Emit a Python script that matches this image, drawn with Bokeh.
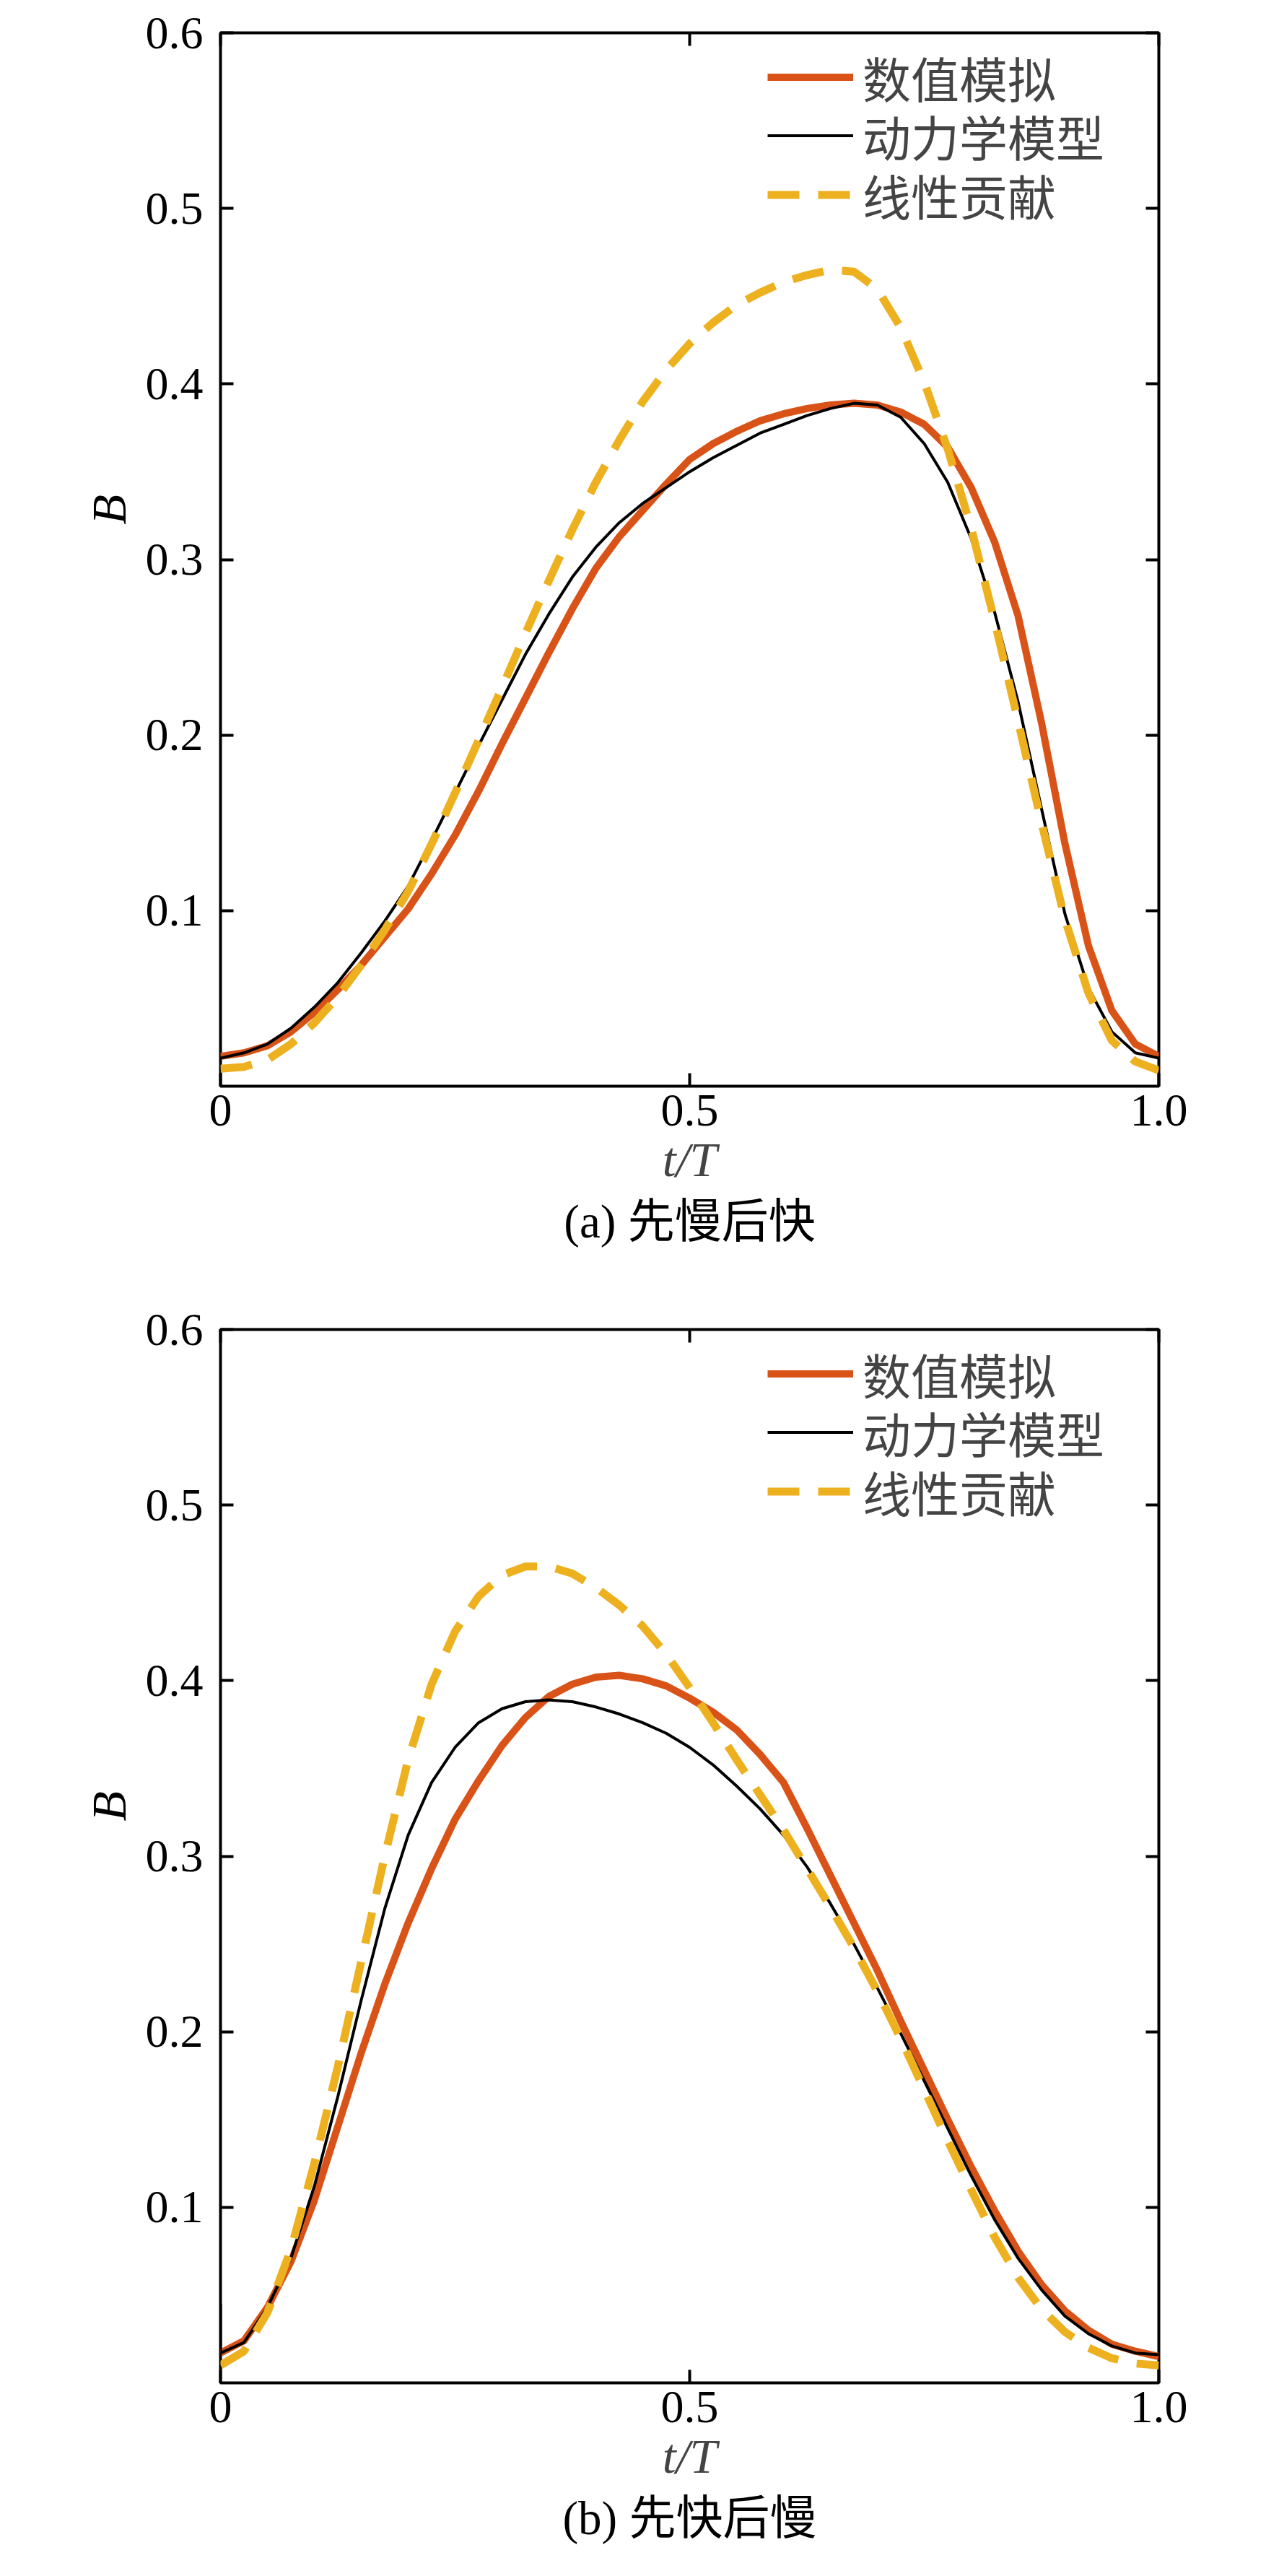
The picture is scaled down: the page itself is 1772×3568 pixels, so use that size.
from bokeh.plotting import figure
from bokeh.models import (Range1d, FixedTicker, CustomJSTickFormatter, PrintfTickFormatter,
                          LinearAxis, Legend, LegendItem, Title, CustomLabelingPolicy)
from bokeh.layouts import column
from bokeh.embed import file_html
from bokeh.resources import INLINE

# ---------------- data ----------------
T = [0.0, 0.025, 0.05, 0.075, 0.1, 0.125, 0.15, 0.175, 0.2, 0.225, 0.25, 0.275, 0.3,
     0.325, 0.35, 0.375, 0.4, 0.425, 0.45, 0.475, 0.5, 0.525, 0.55, 0.575, 0.6, 0.625,
     0.65, 0.675, 0.7, 0.725, 0.75, 0.775, 0.8, 0.825, 0.85, 0.875, 0.9, 0.925, 0.95,
     0.975, 1.0]

# (a) 先慢后快
num_a = [0.017, 0.019, 0.023, 0.031, 0.042, 0.055, 0.069, 0.085, 0.101, 0.121, 0.143, 0.168,
         0.195, 0.221, 0.247, 0.272, 0.295, 0.313, 0.328, 0.343, 0.357, 0.366, 0.373, 0.379,
         0.383, 0.386, 0.388, 0.389, 0.388, 0.384, 0.377, 0.364, 0.341, 0.310, 0.268, 0.207,
         0.138, 0.080, 0.043, 0.024, 0.017]
dyn_a = [0.016, 0.019, 0.024, 0.033, 0.045, 0.059, 0.076, 0.094, 0.114, 0.140, 0.167, 0.194,
         0.220, 0.246, 0.269, 0.290, 0.307, 0.321, 0.332, 0.341, 0.350, 0.358, 0.365, 0.372,
         0.377, 0.382, 0.386, 0.389, 0.388, 0.381, 0.366, 0.344, 0.312, 0.270, 0.219, 0.158,
         0.098, 0.056, 0.031, 0.019, 0.016]
lin_a = [0.010, 0.011, 0.015, 0.024, 0.036, 0.051, 0.069, 0.089, 0.111, 0.138, 0.167, 0.197,
         0.227, 0.258, 0.288, 0.317, 0.344, 0.368, 0.390, 0.408, 0.423, 0.435, 0.445, 0.452,
         0.458, 0.462, 0.465, 0.464, 0.454, 0.432, 0.401, 0.363, 0.318, 0.265, 0.208, 0.150,
         0.095, 0.053, 0.026, 0.014, 0.009]

# (b) 先快后慢
num_b = [0.017, 0.024, 0.043, 0.069, 0.104, 0.146, 0.188, 0.227, 0.262, 0.293, 0.321, 0.343,
         0.363, 0.379, 0.391, 0.398, 0.402, 0.403, 0.401, 0.397, 0.390, 0.382, 0.372, 0.358,
         0.342, 0.316, 0.289, 0.262, 0.235, 0.206, 0.178, 0.150, 0.123, 0.098, 0.075, 0.056,
         0.041, 0.030, 0.022, 0.018, 0.015]
dyn_b_t = [0.0] + T
dyn_b = [0.045, 0.017, 0.023, 0.043, 0.071, 0.112, 0.163, 0.218, 0.270, 0.312, 0.342, 0.362,
         0.376, 0.384, 0.388, 0.389, 0.388, 0.385, 0.381, 0.376, 0.370, 0.362, 0.352, 0.340,
         0.327, 0.312, 0.294, 0.273, 0.250, 0.225, 0.199, 0.172, 0.145, 0.118, 0.093, 0.071,
         0.053, 0.038, 0.028, 0.021, 0.017, 0.016]
lin_b = [0.010, 0.018, 0.040, 0.076, 0.125, 0.180, 0.240, 0.300, 0.355, 0.398, 0.428, 0.448,
         0.460, 0.465, 0.465, 0.461, 0.453, 0.443, 0.431, 0.415, 0.396, 0.376, 0.355, 0.335,
         0.315, 0.293, 0.271, 0.248, 0.223, 0.196, 0.167, 0.138, 0.110, 0.083, 0.060, 0.042,
         0.029, 0.020, 0.014, 0.011, 0.010]

series_labels = ["数值模拟", "动力学模型", "线性贡献"]
captions = ["(a) 先慢后快", "(b) 先快后慢"]
x_label = "t/T"
y_label = "B"
x_ticks = [0, 0.5, 1.0]
y_ticks = [0.1, 0.2, 0.3, 0.4, 0.5, 0.6]

# ---------------- styling ----------------
ORANGE = "#D95319"
YELLOW = "#EDB120"
SERIF = "Liberation Serif"
MIXED = "Liberation Serif, Noto Sans CJK SC"
LEGEND_ROW_Y = [1349, 1268, 1186]   # screen offsets (px) of the three legend rows

NO_LABELS = CustomLabelingPolicy(code="for (const i of indices) { indices.unset(i) }\nreturn indices")


def style_axis(ax, show_labels):
    ax.axis_line_alpha = 0
    ax.major_tick_in = 18
    ax.major_tick_out = 0
    ax.major_tick_line_width = 4
    ax.major_tick_line_color = "black"
    ax.minor_tick_in = 0
    ax.minor_tick_out = 0
    ax.major_label_text_font = SERIF
    ax.major_label_text_color = "black"
    ax.major_label_text_font_size = "64px"
    if not show_labels:
        ax.major_label_policy = NO_LABELS
        ax.major_label_standoff = 0


def make_panel(caption, tn, num, td, dyn, tl, lin, height, border_bottom):
    p = figure(width=1756, height=height, x_range=Range1d(0, 1), y_range=Range1d(0, 0.6),
               output_backend="svg", toolbar_location=None,
               min_border_left=305, min_border_right=151, min_border_top=29,
               min_border_bottom=border_bottom)
    p.grid.visible = False
    p.outline_line_color = "black"
    p.outline_line_width = 4
    p.background_fill_color = "white"
    p.border_fill_color = "white"

    r1 = p.line(tn, num, line_color=ORANGE, line_width=10, line_join="round")
    r2 = p.line(td, dyn, line_color="black", line_width=4, line_join="round")
    r3 = p.line(tl, lin, line_color=YELLOW, line_width=11, line_dash="44 26")

    xa = p.xaxis[0]
    xa.ticker = FixedTicker(ticks=x_ticks)
    xa.formatter = CustomJSTickFormatter(code="return tick == 0 ? '0' : tick.toFixed(1);")
    style_axis(xa, True)
    xa.major_label_standoff = 12
    xa.axis_label = x_label
    xa.axis_label_text_font = SERIF
    xa.axis_label_text_font_style = "italic"
    xa.axis_label_text_font_size = "68px"
    xa.axis_label_standoff = 6

    ya = p.yaxis[0]
    ya.ticker = FixedTicker(ticks=y_ticks)
    ya.formatter = PrintfTickFormatter(format="%.1f")
    style_axis(ya, True)
    ya.major_label_standoff = 24

    # y label placed a little above the frame centre, as in the reference
    ytitle = Title(text=y_label, align="left", offset=778, standoff=20,
                   text_font=SERIF, text_font_style="italic", text_font_size="68px",
                   text_color="black")
    p.add_layout(ytitle, "left")

    top = LinearAxis(ticker=FixedTicker(ticks=x_ticks))
    style_axis(top, False)
    p.add_layout(top, "above")
    right = LinearAxis(ticker=FixedTicker(ticks=y_ticks))
    style_axis(right, False)
    p.add_layout(right, "right")

    # one legend per row so the row pitch matches the reference
    for label, rend, ly in zip(series_labels, [r1, r2, r3], LEGEND_ROW_Y):
        legend = Legend(items=[LegendItem(label=label, renderers=[rend])],
                        location=(758, ly), padding=0, margin=0, spacing=0,
                        glyph_width=119, glyph_height=81, label_height=81, label_standoff=13,
                        label_text_font=MIXED, label_text_font_size="67px",
                        border_line_alpha=0, background_fill_alpha=0)
        p.add_layout(legend)

    title = Title(text=caption, align="center", text_font=MIXED, text_font_size="65px",
                  text_font_style="normal", text_color="black", standoff=14)
    p.add_layout(title, "below")
    return p


p1 = make_panel(captions[0], T, num_a, T, dyn_a, T, lin_a, 1796, 292)
p2 = make_panel(captions[1], T, num_b, dyn_b_t, dyn_b, T, lin_b, 1756, 252)

layout = column(p1, p2)
open("out.html", "w").write(file_html(layout, INLINE))
